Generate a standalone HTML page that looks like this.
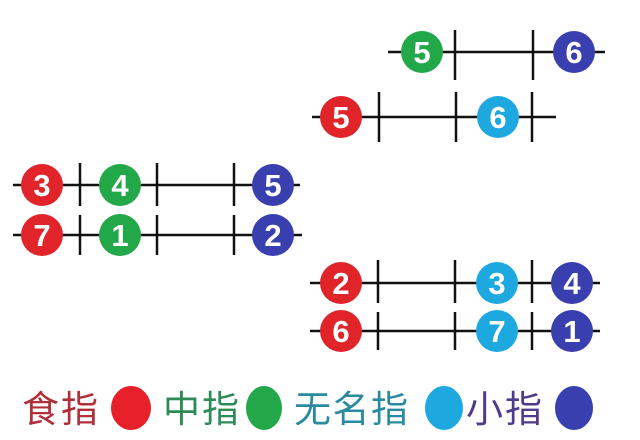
<!DOCTYPE html>
<html><head><meta charset="utf-8"><style>
html,body{margin:0;padding:0;background:#fff;}
svg{display:block;}
.t{font-family:"Liberation Sans",sans-serif;font-weight:bold;font-size:31px;fill:#fff;text-anchor:middle;}
.l{font-family:"Liberation Sans","Noto Sans CJK SC",sans-serif;font-size:37px;}
</style></head><body>
<svg width="640" height="440" viewBox="0 0 640 440">
<g stroke="#111" stroke-width="2.5">
<line x1="388" y1="52" x2="605" y2="52"/><line x1="455" y1="30" x2="455" y2="80"/><line x1="533" y1="30" x2="533" y2="80"/>
<line x1="312" y1="117" x2="556" y2="117"/><line x1="379" y1="92" x2="379" y2="142"/><line x1="456" y1="92" x2="456" y2="142"/><line x1="532" y1="92" x2="532" y2="142"/>
<line x1="13" y1="185" x2="300" y2="185"/><line x1="80" y1="163" x2="80" y2="206"/><line x1="157" y1="163" x2="157" y2="206"/><line x1="234" y1="163" x2="234" y2="206"/>
<line x1="13" y1="235" x2="302" y2="235"/><line x1="80" y1="215" x2="80" y2="255"/><line x1="157" y1="215" x2="157" y2="255"/><line x1="234" y1="215" x2="234" y2="255"/>
<line x1="310" y1="283" x2="600" y2="283"/><line x1="378" y1="260" x2="378" y2="303"/><line x1="455" y1="260" x2="455" y2="303"/><line x1="532" y1="260" x2="532" y2="303"/>
<line x1="310" y1="331" x2="600" y2="331"/><line x1="378" y1="312" x2="378" y2="350"/><line x1="455" y1="312" x2="455" y2="350"/><line x1="532" y1="312" x2="532" y2="350"/>
</g>
<g>
<circle cx="422" cy="52" r="21" fill="#22a848"/><text class="t" x="422" y="63">5</text>
<circle cx="574" cy="52" r="21" fill="#3a3fb0"/><text class="t" x="574" y="63">6</text>
<circle cx="341" cy="117" r="21" fill="#e0242a"/><text class="t" x="341" y="128">5</text>
<circle cx="498" cy="117" r="21" fill="#1ea8e0"/><text class="t" x="498" y="128">6</text>
<circle cx="42" cy="185" r="21" fill="#e0242a"/><text class="t" x="42" y="196">3</text>
<circle cx="120" cy="185" r="21" fill="#22a848"/><text class="t" x="120" y="196">4</text>
<circle cx="273" cy="185" r="21" fill="#3a3fb0"/><text class="t" x="273" y="196">5</text>
<circle cx="42" cy="235" r="21" fill="#e0242a"/><text class="t" x="42" y="246">7</text>
<circle cx="120" cy="235" r="21" fill="#22a848"/><text class="t" x="120" y="246">1</text>
<circle cx="273" cy="235" r="21" fill="#3a3fb0"/><text class="t" x="273" y="246">2</text>
<circle cx="341" cy="283" r="21" fill="#e0242a"/><text class="t" x="341" y="294">2</text>
<circle cx="497" cy="283" r="21" fill="#1ea8e0"/><text class="t" x="497" y="294">3</text>
<circle cx="572" cy="283" r="21" fill="#3a3fb0"/><text class="t" x="572" y="294">4</text>
<circle cx="341" cy="331" r="21" fill="#e0242a"/><text class="t" x="341" y="342">6</text>
<circle cx="497" cy="331" r="21" fill="#1ea8e0"/><text class="t" x="497" y="342">7</text>
<circle cx="572" cy="331" r="21" fill="#3a3fb0"/><text class="t" x="572" y="342">1</text>
</g>
<text class="l" x="22" y="422" fill="#b0303a" textLength="76">食指</text>
<ellipse cx="131" cy="408" rx="20" ry="22" fill="#e8202a"/>
<text class="l" x="163" y="422" fill="#2e8b57" textLength="76">中指</text>
<ellipse cx="264" cy="408" rx="18" ry="22" fill="#22a848"/>
<text class="l" x="294" y="422" fill="#2a8aa0" textLength="114">无名指</text>
<ellipse cx="444" cy="408" rx="19" ry="22" fill="#1ea8e0"/>
<text class="l" x="466" y="422" fill="#503a8a" textLength="76">小指</text>
<ellipse cx="574" cy="408" rx="19" ry="22" fill="#3a3fb0"/>
</svg>
</body></html>
